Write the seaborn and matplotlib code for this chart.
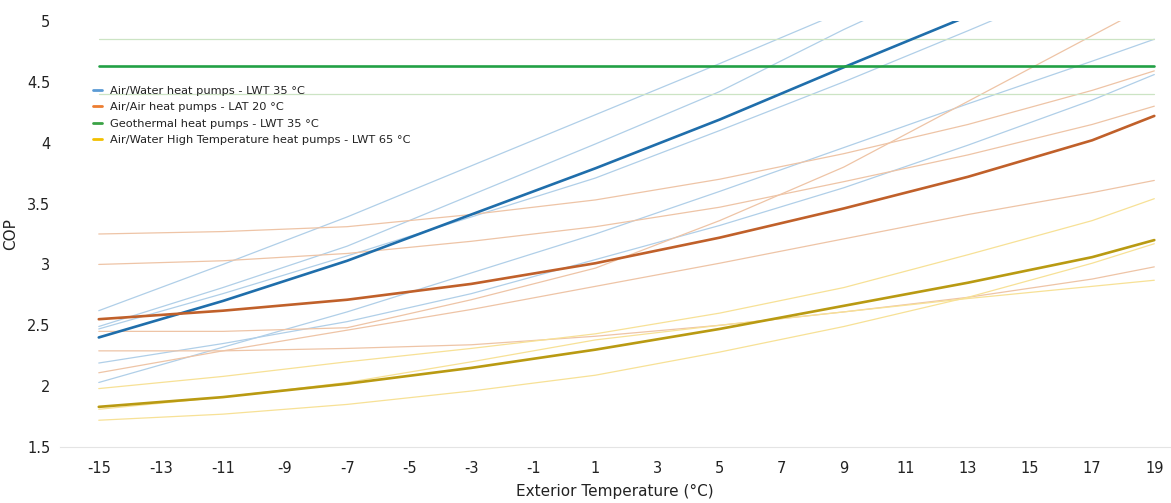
import numpy as np
import pandas as pd
import matplotlib
matplotlib.use("Agg")
import matplotlib.pyplot as plt
import seaborn as sns
from matplotlib.lines import Line2D

# Exterior temperature sample points (°C)
temps = [-15, -11, -7, -3, 1, 5, 9, 13, 17, 19]

# Air/Water heat pumps - LWT 35 °C
aw_avg = [2.40, 2.70, 3.03, 3.41, 3.79, 4.19, 4.62, 5.04, 5.45, 5.65]
aw_1 = [2.62, 3.00, 3.39, 3.81, 4.23, 4.65, 5.08, 5.50, 5.90, 6.10]
aw_2 = [2.49, 2.81, 3.15, 3.57, 3.99, 4.42, 4.93, 5.40, 5.90, 6.15]
aw_3 = [2.47, 2.76, 3.07, 3.39, 3.71, 4.10, 4.50, 4.92, 5.35, 5.55]
aw_4 = [2.19, 2.35, 2.53, 2.76, 3.04, 3.32, 3.63, 3.98, 4.35, 4.56]
aw_5 = [2.03, 2.32, 2.61, 2.93, 3.25, 3.60, 3.96, 4.32, 4.67, 4.85]

# Air/Air heat pumps - LAT 20 °C
aa_avg = [2.55, 2.62, 2.71, 2.84, 3.01, 3.22, 3.46, 3.72, 4.02, 4.22]
aa_1 = [3.25, 3.27, 3.31, 3.41, 3.53, 3.70, 3.91, 4.15, 4.43, 4.59]
aa_2 = [3.00, 3.03, 3.09, 3.19, 3.31, 3.47, 3.68, 3.90, 4.15, 4.30]
aa_3 = [2.45, 2.45, 2.48, 2.71, 2.97, 3.36, 3.80, 4.34, 4.88, 5.15]
aa_4 = [2.11, 2.29, 2.46, 2.63, 2.82, 3.01, 3.21, 3.41, 3.59, 3.69]
aa_5 = [2.29, 2.29, 2.31, 2.34, 2.41, 2.50, 2.61, 2.73, 2.88, 2.98]

# Geothermal heat pumps - LWT 35 °C
geo_avg = [4.63] * 10
geo_1 = [4.85] * 10
geo_2 = [4.40] * 10

# Air/Water High Temperature heat pumps - LWT 65 °C
ht_avg = [1.83, 1.91, 2.02, 2.15, 2.30, 2.47, 2.66, 2.85, 3.06, 3.20]
ht_1 = [1.98, 2.08, 2.20, 2.31, 2.43, 2.60, 2.81, 3.08, 3.36, 3.54]
ht_2 = [1.81, 1.91, 2.03, 2.20, 2.38, 2.50, 2.61, 2.72, 2.82, 2.87]
ht_3 = [1.72, 1.77, 1.85, 1.96, 2.09, 2.28, 2.49, 2.73, 3.01, 3.17]

labels = [
    "Air/Water heat pumps - LWT 35 °C",
    "Air/Air heat pumps - LAT 20 °C",
    "Geothermal heat pumps - LWT 35 °C",
    "Air/Water High Temperature heat pumps - LWT 65 °C",
]

groups = [
    (labels[0], aw_avg, [aw_1, aw_2, aw_3, aw_4, aw_5], "#1f6eab", "#b0cfe8"),
    (labels[1], aa_avg, [aa_1, aa_2, aa_3, aa_4, aa_5], "#c0602a", "#eec4a6"),
    (labels[2], geo_avg, [geo_1, geo_2], "#22a045", "#cce4c4"),
    (labels[3], ht_avg, [ht_1, ht_2, ht_3], "#b99a12", "#f7e196"),
]
legend_colors = ["#5b9bd5", "#ed7d31", "#3aa245", "#f2c000"]

sns.set_theme(style="white")
plt.rcParams["font.family"] = ["DejaVu Sans"]

fig = plt.figure(figsize=(11.71, 5.03), dpi=100)
ax = fig.add_axes([0.0512, 0.1113, 0.9478, 0.847])

# thin lines first
for name, avg, members, dark, light in groups:
    for m in members:
        df = pd.DataFrame({"T": temps, "COP": m})
        sns.lineplot(data=df, x="T", y="COP", ax=ax, color=light, lw=0.9,
                     legend=False, zorder=2)
# thick lines on top
for name, avg, members, dark, light in groups:
    df = pd.DataFrame({"T": temps, "COP": avg})
    sns.lineplot(data=df, x="T", y="COP", ax=ax, color=dark, lw=1.9,
                 legend=False, zorder=3)

ax.set_xlim(-16.25, 19.5)
ax.set_ylim(1.5, 5.0)
ax.set_xticks(list(range(-15, 20, 2)))
ax.set_xticklabels([str(t) for t in range(-15, 20, 2)])
yt = [1.5, 2, 2.5, 3, 3.5, 4, 4.5, 5]
ax.set_yticks(yt)
ax.set_yticklabels([("%g" % v) for v in yt])
ax.tick_params(axis="both", length=0, labelsize=10.5, colors="#222222")
ax.tick_params(axis="x", pad=10)
ax.tick_params(axis="y", pad=7)
for s in ["top", "right", "left"]:
    ax.spines[s].set_visible(False)
ax.spines["bottom"].set_color("#e4e4e4")
ax.spines["bottom"].set_linewidth(0.8)
ax.grid(False)

ax.set_xlabel("Exterior Temperature (°C)", fontsize=11, color="#222222", labelpad=6)
ax.set_ylabel("COP", fontsize=11, color="#222222", labelpad=6)

handles = [Line2D([0], [0], color=c, lw=2) for c in legend_colors]
leg = ax.legend(handles, labels, loc="upper left", bbox_to_anchor=(0.026, 0.858),
                frameon=False, fontsize=8.2, handlelength=0.8, handletextpad=0.7,
                labelspacing=0.55, borderaxespad=0)
for t in leg.get_texts():
    t.set_color("#222222")

fig.savefig("out.png", dpi=100, facecolor="white")
